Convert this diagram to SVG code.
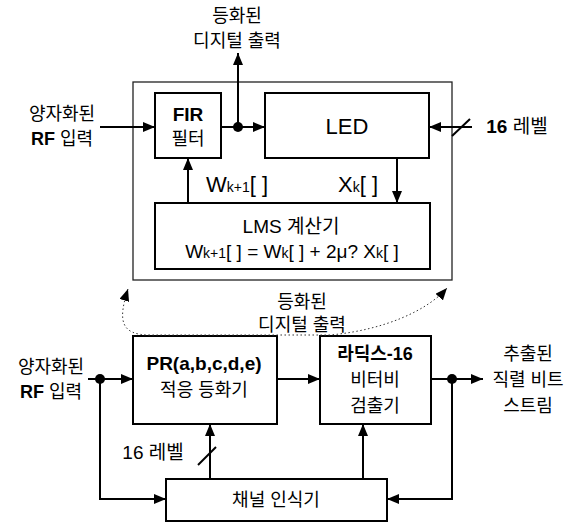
<svg xmlns="http://www.w3.org/2000/svg" width="579" height="524" viewBox="0 0 579 524">
<style>
.box{fill:#fff;stroke:#000;stroke-width:2}
.outer{fill:none;stroke:#222;stroke-width:1.3}
.ln{fill:none;stroke:#000;stroke-width:2}
.dot{fill:#000}
.t{font-family:"Liberation Sans","Noto Sans CJK KR",sans-serif;font-size:18px;fill:#000;text-anchor:middle}
.b{font-weight:bold}
.big{font-size:22px}
.sub{font-size:14px}
</style>
<defs>
<marker id="ah" markerWidth="12" markerHeight="10" refX="12" refY="5" orient="auto" markerUnits="userSpaceOnUse">
<path d="M0,0 L12,5 L0,10 Z" fill="#000"/>
</marker>
<marker id="ahs" markerWidth="12" markerHeight="10" refX="12" refY="5" orient="auto-start-reverse" markerUnits="userSpaceOnUse">
<path d="M0,0 L12,5 L0,10 Z" fill="#000"/>
</marker>
</defs>
<g id="outer-box"><rect class="outer" x="133" y="82" width="319" height="198"/></g>
<g id="fir"><rect class="box" x="155" y="93" width="66" height="65"/>
<text class="t b" x="188" y="121" style="font-size:19px">FIR</text><text class="t" x="188" y="145">필터</text></g>
<g id="led"><rect class="box" x="265" y="93" width="164" height="65"/>
<text class="t big" x="347" y="134">LED</text></g>
<g id="lms"><rect class="box" x="155" y="203" width="275" height="66"/>
<text class="t" x="291" y="233" style="font-size:19px">LMS 계산기</text>
<text class="t" x="292" y="258" style="font-size:19px">W<tspan class="sub">k+1</tspan>[ ] = W<tspan class="sub">k</tspan>[ ] + 2μ? X<tspan class="sub">k</tspan>[ ]</text></g>
<g id="pr"><rect class="box" x="133" y="336" width="144" height="88"/>
<text class="t b" x="204" y="370" style="font-size:19px">PR(a,b,c,d,e)</text><text class="t" x="204" y="396">적응 등화기</text></g>
<g id="radix"><rect class="box" x="320" y="336" width="111" height="88"/>
<text class="t b" x="375" y="360">라딕스-16</text><text class="t" x="375" y="386">비터비</text><text class="t" x="375" y="412">검출기</text></g>
<g id="channel"><rect class="box" x="166" y="479" width="221" height="42"/>
<text class="t" x="276" y="506">채널 인식기</text></g>
<g id="labels">
<text class="t" x="237" y="22">등화된</text><text class="t" x="237" y="47">디지털 출력</text>
<text class="t" x="62" y="120">양자화된</text><text class="t" x="62" y="145"><tspan class="b">RF</tspan> 입력</text>
<text class="t" x="517" y="133" style="font-size:19px"><tspan class="b">16</tspan> 레벨</text>
<text class="t" x="237" y="192" style="font-size:22px">W<tspan class="sub">k+1</tspan>[ ]</text>
<text class="t" x="358" y="192" style="font-size:22px">X<tspan class="sub">k</tspan>[ ]</text>
<text class="t" x="302" y="308">등화된</text><text class="t" x="302" y="331">디지털 출력</text>
<text class="t" x="51" y="373">양자화된</text><text class="t" x="51" y="398"><tspan class="b">RF</tspan> 입력</text>
<text class="t" x="153" y="459" style="font-size:19px">16 레벨</text>
<text class="t" x="528" y="360">추출된</text><text class="t" x="528" y="386">직렬 비트</text><text class="t" x="528" y="412">스트림</text>
</g>
<g id="connectors">
<line class="ln" x1="100" y1="127" x2="155" y2="127" marker-end="url(#ah)"/>
<line class="ln" x1="221" y1="127" x2="265" y2="127" marker-end="url(#ah)"/>
<line class="ln" x1="238" y1="127" x2="238" y2="53" marker-end="url(#ah)"/>
<circle class="dot" cx="238" cy="127" r="5"/>
<line class="ln" x1="472" y1="127" x2="429" y2="127" marker-end="url(#ah)"/>
<line class="ln" x1="452" y1="136" x2="470" y2="119"/>
<line class="ln" x1="188" y1="203" x2="188" y2="158" marker-end="url(#ah)"/>
<line class="ln" x1="397" y1="158" x2="397" y2="203" marker-end="url(#ah)"/>
<path d="M128,289 C118,320 120,335 150,335 L330,335 C385,330 428,310 447,288" fill="none" stroke="#333" stroke-width="1" stroke-dasharray="1.5,2.5" marker-start="url(#ahs)" marker-end="url(#ahs)"/>
<line class="ln" x1="88" y1="379" x2="133" y2="379" marker-end="url(#ah)"/>
<circle class="dot" cx="100" cy="379" r="5"/>
<polyline class="ln" points="100,379 100,499 166,499" marker-end="url(#ah)"/>
<line class="ln" x1="277" y1="379" x2="320" y2="379" marker-end="url(#ah)"/>
<line class="ln" x1="431" y1="379" x2="483" y2="379" marker-end="url(#ah)"/>
<circle class="dot" cx="452" cy="379" r="5"/>
<polyline class="ln" points="452,379 452,499 387,499" marker-end="url(#ah)"/>
<line class="ln" x1="210" y1="479" x2="210" y2="424" marker-end="url(#ah)"/>
<line class="ln" x1="198" y1="465" x2="216" y2="447"/>
<line class="ln" x1="363" y1="479" x2="363" y2="424" marker-end="url(#ah)"/>
</g>
</svg>
